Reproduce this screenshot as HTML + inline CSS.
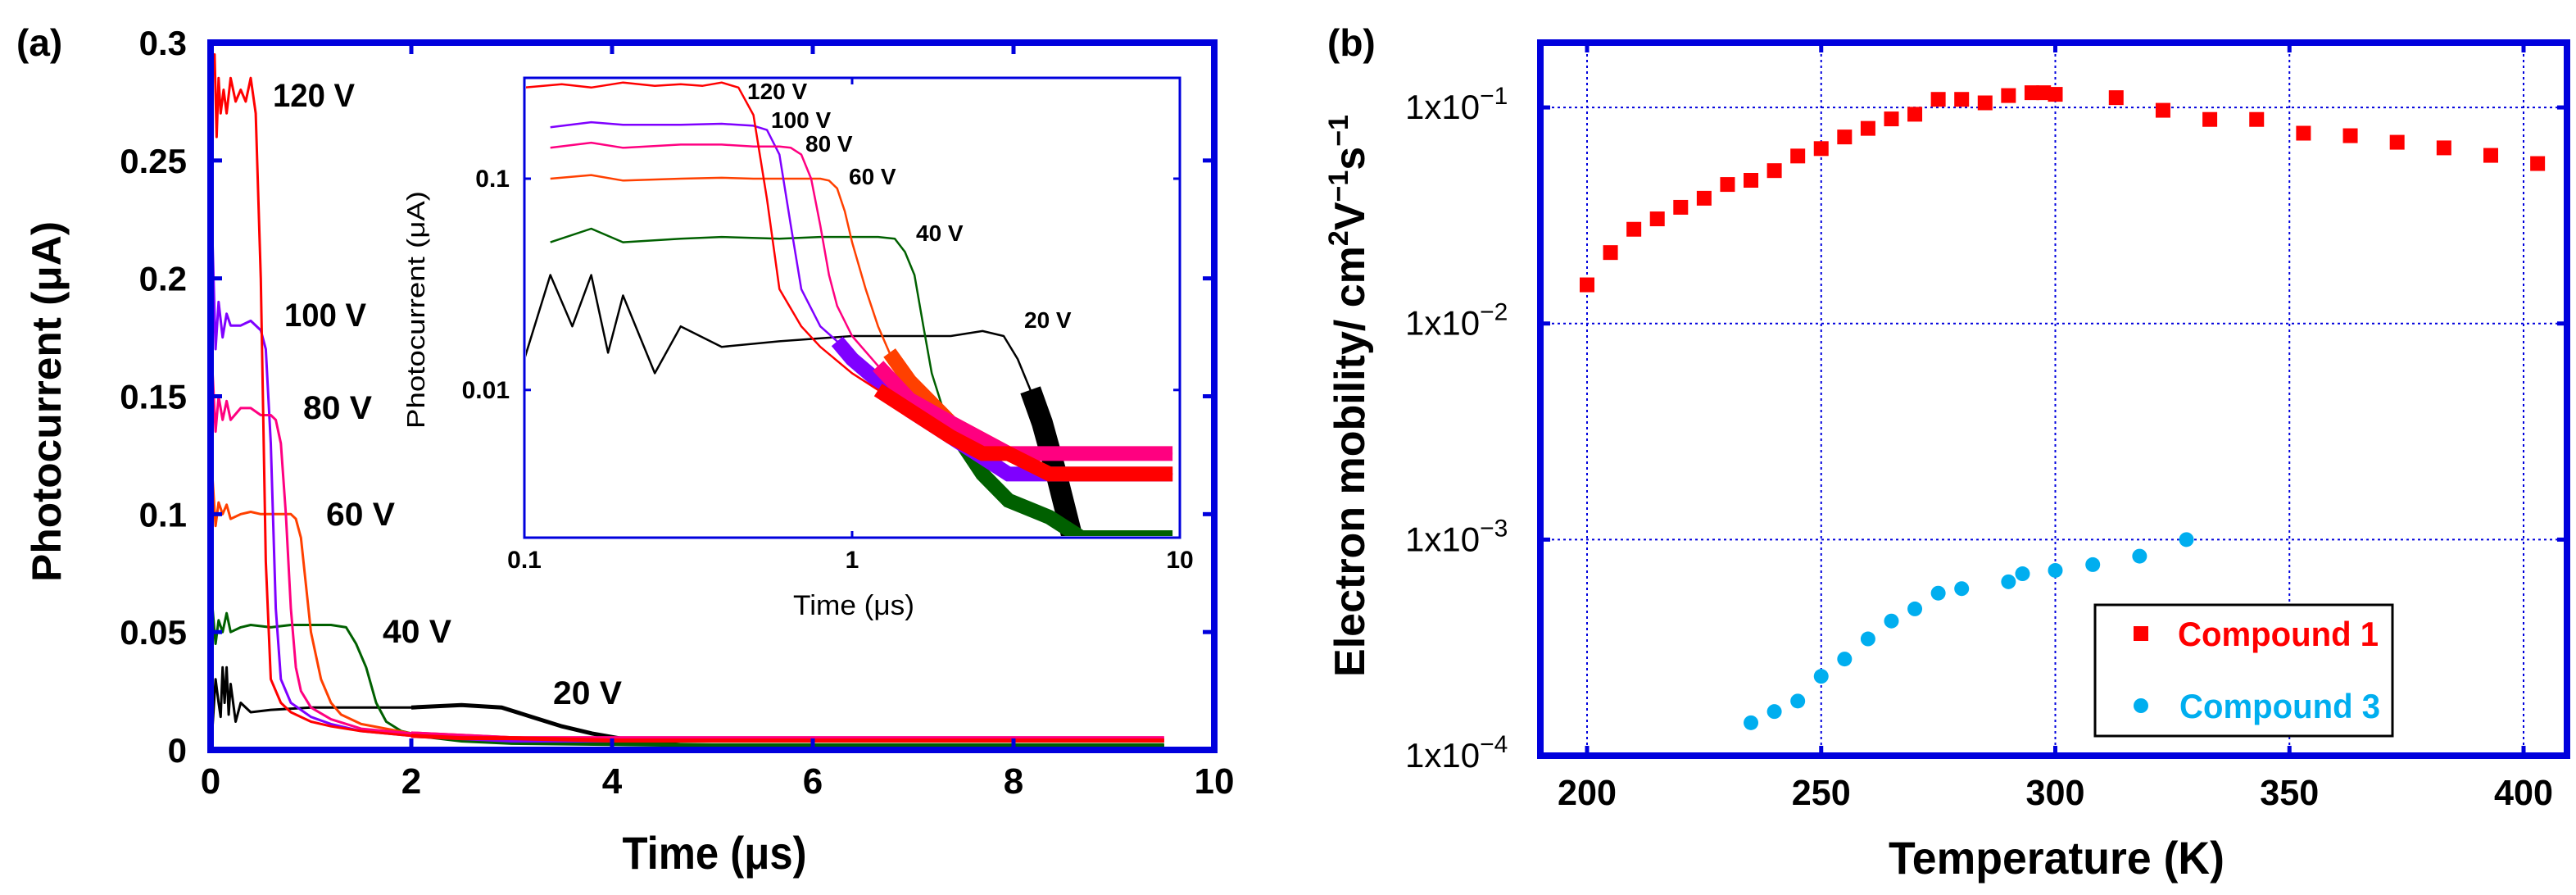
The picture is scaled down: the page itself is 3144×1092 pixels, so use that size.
<!DOCTYPE html>
<html><head><meta charset="utf-8"><style>
html,body{margin:0;padding:0;background:#fff;}
svg{display:block;font-family:"Liberation Sans",sans-serif;font-weight:bold;}
</style></head><body>
<svg id="fig" width="3144" height="1092" viewBox="0 0 3144 1092" xmlns="http://www.w3.org/2000/svg">
<defs>
<clipPath id="clipMain"><rect x="261" y="56" width="1221" height="855"/></clipPath>
<clipPath id="clipInset"><rect x="642" y="97" width="794" height="557"/></clipPath>
</defs>
<rect x="0" y="0" width="3144" height="1092" fill="#fff"/>
<g id="panelA"></g>
<g id="panelB"></g>
</svg>
<script>
// ---------- Panel (a) data: transient photocurrent ----------
const voltLabels = ["120 V","100 V","80 V","60 V","40 V","20 V"];
const t120 = [0,0.02,0.04,0.06,0.08,0.1,0.13,0.16,0.2,0.25,0.3,0.35,0.4,0.45,0.5,0.55,0.6,0.7,0.8,1.0,1.2,1.5,2,2.5,3,4,5,6,7,8,9,9.5];
const i120 = [0.25,0.29,0.295,0.26,0.285,0.27,0.28,0.27,0.285,0.275,0.28,0.275,0.285,0.27,0.2,0.08,0.03,0.02,0.016,0.012,0.01,0.008,0.006,0.005,0.005,0.004,0.004,0.004,0.004,0.004,0.004,0.004];
const t100 = [0,0.02,0.05,0.08,0.12,0.16,0.2,0.3,0.4,0.5,0.55,0.6,0.65,0.7,0.8,0.9,1.0,1.2,1.5,2,3,4,6,8,9.5];
const i100 = [0.12,0.215,0.17,0.19,0.175,0.185,0.18,0.18,0.182,0.178,0.17,0.13,0.06,0.03,0.02,0.017,0.014,0.011,0.008,0.006,0.004,0.004,0.004,0.004,0.004];
const t80 = [0,0.02,0.05,0.08,0.12,0.16,0.2,0.3,0.4,0.5,0.6,0.65,0.7,0.75,0.8,0.85,0.9,1.0,1.2,1.5,2,3,4,6,8,9.5];
const i80 = [0.1,0.16,0.135,0.15,0.14,0.148,0.14,0.145,0.145,0.142,0.142,0.14,0.13,0.1,0.06,0.035,0.025,0.018,0.013,0.009,0.007,0.005,0.005,0.005,0.005,0.005];
const t60 = [0,0.02,0.05,0.08,0.12,0.16,0.2,0.3,0.4,0.5,0.6,0.7,0.8,0.85,0.9,0.95,1.0,1.1,1.2,1.3,1.5,2,3,4,6,8,9.5];
const i60 = [0.08,0.115,0.095,0.105,0.1,0.104,0.098,0.1,0.101,0.1,0.1,0.1,0.1,0.098,0.09,0.07,0.05,0.03,0.02,0.015,0.011,0.007,0.005,0.004,0.004,0.004,0.004];
const t40 = [0,0.02,0.05,0.08,0.12,0.16,0.2,0.3,0.4,0.6,0.8,1.0,1.2,1.35,1.45,1.55,1.65,1.75,1.9,2.1,2.5,3,4,5,6,8,9.5];
const i40 = [0.09,0.06,0.045,0.055,0.05,0.058,0.05,0.052,0.053,0.052,0.053,0.053,0.053,0.052,0.045,0.035,0.02,0.012,0.008,0.006,0.004,0.003,0.0025,0.002,0.002,0.002,0.002];
const t20 = [0,0.02,0.05,0.08,0.1,0.12,0.14,0.16,0.18,0.2,0.25,0.3,0.4,0.6,1.0,1.5,2,2.5,2.9,3.2,3.5,3.8,4.2,4.7,5.5,7,9.5];
const i20 = [0.035,0.01,0.03,0.02,0.014,0.035,0.02,0.035,0.015,0.028,0.012,0.02,0.016,0.017,0.018,0.018,0.018,0.019,0.018,0.014,0.01,0.007,0.004,0.002,0.0015,0.0012,0.0012];
const xTicksA = [0,2,4,6,8,10];
const yTicksA = [0,0.05,0.1,0.15,0.2,0.25,0.3];
const yTickLabelsA = ["0","0.05","0.1","0.15","0.2","0.25","0.3"];
const xTicksInset = [0.1,1,10];
const xTickLabelsInset = ["0.1","1","10"];
const yTicksInset = [0.01,0.1];
const yTickLabelsInset = ["0.01","0.1"];

// ---------- Panel (b) data: mobility vs temperature ----------
const tempC1 = [200,205,210,215,220,225,230,235,240,245,250,255,260,265,270,275,280,285,290,295,297.5,300,313,323,333,343,353,363,373,383,393,403];
const muC1 = [0.0151,0.0213,0.0273,0.0305,0.0345,0.038,0.044,0.046,0.051,0.0596,0.0645,0.073,0.080,0.0885,0.093,0.109,0.109,0.105,0.1135,0.117,0.117,0.115,0.111,0.097,0.088,0.088,0.076,0.074,0.069,0.065,0.060,0.055];
const tempC3 = [235,240,245,250,255,260,265,270,275,280,290,293,300,308,318,328];
const muC3 = [1.42e-4,1.6e-4,1.79e-4,2.33e-4,2.8e-4,3.47e-4,4.2e-4,4.78e-4,5.65e-4,5.93e-4,6.38e-4,6.95e-4,7.2e-4,7.66e-4,8.38e-4,1.0e-3];
const xTicksB = [200,250,300,350,400];
const yExpB = [-1,-2,-3,-4];

const NS = "http://www.w3.org/2000/svg";
function mk(parent, tag, attrs, text){
  const e = document.createElementNS(NS, tag);
  for (const k in attrs) e.setAttribute(k, attrs[k]);
  if (text !== undefined) e.textContent = text;
  parent.appendChild(e);
  return e;
}
const A = document.getElementById('panelA');
const B = document.getElementById('panelB');

const AX = {l:257, r:1482, t:52, b:915};
const xA = t => AX.l + (t/10)*(AX.r-AX.l);
const yA = v => AX.b - (v/0.3)*(AX.b-AX.t);
const IN = {l:640, r:1440, t:95, b:656};
const xI = t => IN.l + (Math.log10(t)+1)/2*(IN.r-IN.l);
const yI = v => IN.b - (Math.log10(v) - Math.log10(0.002))/(Math.log10(0.3)-Math.log10(0.002))*(IN.b-IN.t);
const xB = T => 1937 + (T-200)/200*(3080-1937);
const yB = m => 922 - (Math.log10(m)+4)/(4-0.7)*(922-52);
const BX = {l:1880, r:3133, t:52, b:922};

const series = [
 {t:t120,i:i120,c:"#ff0000",tail:1.2,name:"curve-120v"},
 {t:t100,i:i100,c:"#7f00ff",tail:0.9,name:"curve-100v"},
 {t:t80,i:i80,c:"#ff0080",tail:1.1,name:"curve-80v"},
 {t:t60,i:i60,c:"#ff4000",tail:1.3,name:"curve-60v"},
 {t:t40,i:i40,c:"#006000",tail:2.0,name:"curve-40v"},
 {t:t20,i:i20,c:"#000000",tail:3.5,name:"curve-20v"}
];
const drawOrder = [5,4,3,1,2,0];

// ---- main plot a ----
const mainG = mk(A,'g',{'clip-path':'url(#clipMain)'});


for (const k of drawOrder){
  const s = series[k];
  const pts = s.t.map((t,j)=>xA(t).toFixed(1)+","+yA(s.i[j]).toFixed(1)).join(" ");
  const pl = mk(mainG,'polyline',{points:pts,fill:'none',stroke:s.c,'stroke-width':3,'stroke-linejoin':'round'});
  
  
  const tailPts = s.t.map((t,j)=>[t,s.i[j]]).filter(p=>p[0]>=2).map(p=>xA(p[0]).toFixed(1)+","+yA(p[1]).toFixed(1)).join(" ");
  mk(mainG,'polyline',{points:tailPts,fill:'none',stroke:s.c,'stroke-width':5});
}
const fA = mk(A,'rect',{x:AX.l,y:AX.t,width:AX.r-AX.l,height:AX.b-AX.t,fill:'none',stroke:'#0000dd','stroke-width':8});


xTicksA.forEach(t=>{
  const x = xA(t);
  if (t>0 && t<10){
    mk(A,'line',{x1:x,y1:AX.b,x2:x,y2:AX.b-14,stroke:'#0000dd','stroke-width':5});
    mk(A,'line',{x1:x,y1:AX.t,x2:x,y2:AX.t+14,stroke:'#0000dd','stroke-width':5});
  }
  const tl = mk(A,'text',{x:x,y:968,'font-size':44,'text-anchor':'middle'}, String(t));
  
  
});
yTicksA.forEach((v,j)=>{
  const y = yA(v);
  if (v>0 && v<0.3){
    mk(A,'line',{x1:AX.l,y1:y,x2:AX.l+14,y2:y,stroke:'#0000dd','stroke-width':5});
    mk(A,'line',{x1:AX.r,y1:y,x2:AX.r-14,y2:y,stroke:'#0000dd','stroke-width':5});
  }
  const tl = mk(A,'text',{x:228,y:y+15,'font-size':42,'text-anchor':'end'}, yTickLabelsA[j]);
  
  
});
const mainVL = [[333,116],[347,384],[370,497],[398,627],[467,770],[675,845]];
voltLabels.forEach((s,j)=>{
  const e = mk(A,'text',{x:mainVL[j][0],y:mainVL[j][1]+14,'font-size':40,textLength:s.length>4?100:84,lengthAdjust:'spacingAndGlyphs'}, s);
  
  
});
let e;
e = mk(A,'text',{x:20,y:68,'font-size':46}, "(a)");
 
e = mk(A,'text',{x:0,y:0,'font-size':50,'text-anchor':'middle',transform:'translate(74,490) rotate(-90)',textLength:440,lengthAdjust:'spacingAndGlyphs'}, "Photocurrent (μA)");
 
e = mk(A,'text',{x:872,y:1060,'font-size':56,'text-anchor':'middle',textLength:225,lengthAdjust:'spacingAndGlyphs'}, "Time (μs)");
 

// ---- inset ----
mk(A,'rect',{x:IN.l,y:IN.t,width:IN.r-IN.l,height:IN.b-IN.t,fill:'#fff'});
const inG = mk(A,'g',{'clip-path':'url(#clipInset)'});


for (const k of drawOrder){
  const s = series[k];
  const P = s.t.map((t,j)=>[t,s.i[j]]).filter(p=>p[0]>=0.1);
  const pts = P.map(p=>xI(p[0]).toFixed(1)+","+yI(p[1]).toFixed(1)).join(" ");
  const pl = mk(inG,'polyline',{points:pts,fill:'none',stroke:s.c,'stroke-width':2.5,'stroke-linejoin':'round'});
  
  
  const tp = P.filter(p=>p[0]>=s.tail).map(p=>xI(p[0]).toFixed(1)+","+yI(p[1]).toFixed(1)).join(" ");
  mk(inG,'polyline',{points:tp,fill:'none',stroke:s.c,'stroke-width':s.tail>3?26:18});
}
const fI = mk(A,'rect',{x:IN.l,y:IN.t,width:IN.r-IN.l,height:IN.b-IN.t,fill:'none',stroke:'#0000dd','stroke-width':3});
 
xTicksInset.forEach((t,j)=>{
  const x = xI(t);
  if (j===1){
    mk(A,'line',{x1:x,y1:IN.b,x2:x,y2:IN.b-8,stroke:'#0000dd','stroke-width':3});
    mk(A,'line',{x1:x,y1:IN.t,x2:x,y2:IN.t+8,stroke:'#0000dd','stroke-width':3});
  }
  const tl = mk(A,'text',{x:x,y:693,'font-size':30,'text-anchor':'middle'}, xTickLabelsInset[j]);
   
});
yTicksInset.forEach((v,j)=>{
  const y = yI(v);
  mk(A,'line',{x1:IN.l,y1:y,x2:IN.l+8,y2:y,stroke:'#0000dd','stroke-width':3});
  mk(A,'line',{x1:IN.r,y1:y,x2:IN.r-8,y2:y,stroke:'#0000dd','stroke-width':3});
  const tl = mk(A,'text',{x:622,y:y+10,'font-size':30,'text-anchor':'end'}, yTickLabelsInset[j]);
   
});
const insVL = [[912,111],[941,146],[983,175],[1036,215],[1118,284],[1250,390]];
voltLabels.forEach((s,j)=>{
  const el = mk(A,'text',{x:insVL[j][0],y:insVL[j][1]+10,'font-size':28}, s);
  
  
});
e = mk(A,'text',{x:0,y:0,'font-size':31,'font-weight':'normal','text-anchor':'middle',transform:'translate(518,378) rotate(-90)',textLength:290,lengthAdjust:'spacingAndGlyphs'}, "Photocurrent (μA)");
 
e = mk(A,'text',{x:1042,y:750,'font-size':34,'font-weight':'normal','text-anchor':'middle',textLength:148,lengthAdjust:'spacingAndGlyphs'}, "Time (μs)");
 

// ---- panel b ----
xTicksB.forEach(T=>{
  const x = xB(T);
  const g = mk(B,'line',{x1:x,y1:BX.t,x2:x,y2:BX.b,stroke:'#0000dd','stroke-width':2,'stroke-dasharray':'3,4'});
   
  mk(B,'line',{x1:x,y1:BX.b,x2:x,y2:BX.b-12,stroke:'#0000dd','stroke-width':5});
  mk(B,'line',{x1:x,y1:BX.t,x2:x,y2:BX.t+12,stroke:'#0000dd','stroke-width':5});
  const tl = mk(B,'text',{x:x,y:982,'font-size':44,'text-anchor':'middle',textLength:72,lengthAdjust:'spacingAndGlyphs'}, String(T));
   
});
yExpB.forEach(p=>{
  const y = yB(Math.pow(10,p));
  if (p>-4){
    const g = mk(B,'line',{x1:BX.l,y1:y,x2:BX.r,y2:y,stroke:'#0000dd','stroke-width':2,'stroke-dasharray':'3,4'});
     
    mk(B,'line',{x1:BX.l,y1:y,x2:BX.l+12,y2:y,stroke:'#0000dd','stroke-width':5});
    mk(B,'line',{x1:BX.r,y1:y,x2:BX.r-12,y2:y,stroke:'#0000dd','stroke-width':5});
  }
  const tl = mk(B,'text',{x:1715,y:y+14,'font-size':42,'font-weight':'normal'});
   
  const t1 = document.createElementNS(NS,'tspan'); t1.textContent = "1x10"; tl.appendChild(t1);
  const t2 = document.createElementNS(NS,'tspan'); t2.setAttribute('dy','-18'); t2.setAttribute('font-size','30'); t2.textContent = "−"+(-p); tl.appendChild(t2);
});
tempC1.forEach((T,j)=>{
  const r = mk(B,'rect',{x:xB(T)-9,y:yB(muC1[j])-9,width:18,height:18,fill:'#ff0000'});
   
});
tempC3.forEach((T,j)=>{
  const c = mk(B,'circle',{cx:xB(T),cy:yB(muC3[j]),r:9,fill:'#00aeef'});
   
});
const fB = mk(B,'rect',{x:BX.l,y:BX.t,width:BX.r-BX.l,height:BX.b-BX.t,fill:'none',stroke:'#0000dd','stroke-width':8});
 
const lg = mk(B,'g',{});
 
mk(lg,'rect',{x:2557,y:738,width:363,height:160,fill:'#fff',stroke:'#000','stroke-width':3});
mk(lg,'rect',{x:2604,y:764,width:18,height:18,fill:'#ff0000'});
e = mk(lg,'text',{x:2658,y:788,'font-size':42,fill:'#ff0000',textLength:245,lengthAdjust:'spacingAndGlyphs'}, "Compound 1");
 
mk(lg,'circle',{cx:2613,cy:861,r:9,fill:'#00aeef'});
e = mk(lg,'text',{x:2660,y:876,'font-size':42,fill:'#00aeef',textLength:245,lengthAdjust:'spacingAndGlyphs'}, "Compound 3");
 
e = mk(B,'text',{x:1620,y:68,'font-size':46}, "(b)");
 
e = mk(B,'text',{x:2510,y:1066,'font-size':56,'text-anchor':'middle',textLength:410,lengthAdjust:'spacingAndGlyphs'}, "Temperature (K)");
 
const yt = mk(B,'text',{x:0,y:0,'font-size':52,'text-anchor':'middle',transform:'translate(1665,483) rotate(-90)'});
 
[["Electron mobility/ cm",0,52],["2",-20,34],["V",20,52],["−1",-20,34],["s",20,52],["−1",-20,34]].forEach(p=>{
  const ts = document.createElementNS(NS,'tspan');
  ts.setAttribute('dy',p[1]); ts.setAttribute('font-size',p[2]); ts.textContent = p[0]; yt.appendChild(ts);
});
</script>
</body></html>
